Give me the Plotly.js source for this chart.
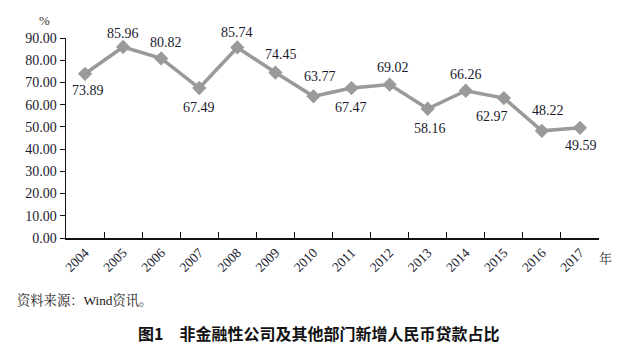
<!DOCTYPE html>
<html><head><meta charset="utf-8">
<script src="https://cdn.plot.ly/plotly-3.0.1.min.js"></script>
<style>html,body{margin:0;padding:0;background:#fff}#chart{width:627px;height:356px}</style>
</head><body><div id="chart"></div>
<script>
const years = ['2004','2005','2006','2007','2008','2009','2010','2011','2012','2013','2014','2015','2016','2017'];
const shares = [73.89,85.96,80.82,67.49,85.74,74.45,63.77,67.47,69.02,58.16,66.26,62.97,48.22,49.59];
const yTicks = [0,10,20,30,40,50,60,70,80,90];
// label offsets (px) relative to each point
const labelDx = [3,0,5,0,0,6,7,-1,3,2,0,-12,6,1];
const labelDy = [17,-13,-16,19,-15,-18,-20,19,-17,20,-16,18,-20,18];

const serif = 'Liberation Serif';
const ann = shares.map((v,i)=>({
  x: i, y: v, xref:'x', yref:'y', text: v.toFixed(2), showarrow:false,
  xshift: labelDx[i], yshift: -labelDy[i], font:{family:serif,size:14,color:'#1a1a2e'}
}));
ann.push({xref:'paper',yref:'paper',x:-0.04,y:1.04,xanchor:'center',yanchor:'bottom',text:'%',showarrow:false,font:{family:serif,size:13,color:'#333'}});
ann.push({xref:'paper',yref:'paper',x:1.0,y:0,xanchor:'left',yanchor:'top',yshift:-8,xshift:-2,text:'年',showarrow:false,font:{family:'Noto Serif CJK SC, Noto Sans CJK SC',size:13,color:'#333'}});
ann.push({xref:'paper',yref:'paper',x:-66/533,y:0,xanchor:'left',yanchor:'middle',yshift:-62,xshift:15,text:'资料来源：Wind资讯。',showarrow:false,font:{family:'Liberation Serif, Noto Serif CJK SC, Noto Sans CJK SC',size:13.3,color:'#222'}});
ann.push({xref:'paper',yref:'paper',x:(318.5-66)/533,y:0,xanchor:'center',yanchor:'middle',yshift:-95,text:'<b>图1　非金融性公司及其他部门新增人民币贷款占比</b>',showarrow:false,font:{family:'Noto Sans CJK SC',size:16,color:'#111'}});

Plotly.newPlot('chart',[{
  x: years, y: shares, type:'scatter', mode:'lines+markers',
  line:{color:'#9a9a9a',width:3.5},
  marker:{symbol:'diamond',size:11,color:'#9a9a9a'},
  cliponaxis:false, hoverinfo:'skip'
}],{
  width:627,height:356,
  margin:{l:66,r:28,t:38,b:118},
  paper_bgcolor:'#fff',plot_bgcolor:'#fff',
  showlegend:false,
  xaxis:{type:'category',range:[-0.5,13.5],tickson:'boundaries',ticks:'inside',ticklen:6,tickcolor:'#111',
    showline:true,linecolor:'#111',linewidth:1.5,showgrid:false,zeroline:false,tickangle:-45,
    tickfont:{family:serif,size:13.5,color:'#1a1a2e'}},
  yaxis:{range:[0,90],tickvals:yTicks,ticktext:yTicks.map(v=>v.toFixed(2)),ticks:'outside',ticklen:5,tickcolor:'#111',
    showline:true,linecolor:'#111',linewidth:1.5,showgrid:false,zeroline:false,
    tickfont:{family:serif,size:14,color:'#1a1a2e'}},
  annotations:ann
},{staticPlot:true});
</script></body></html>
